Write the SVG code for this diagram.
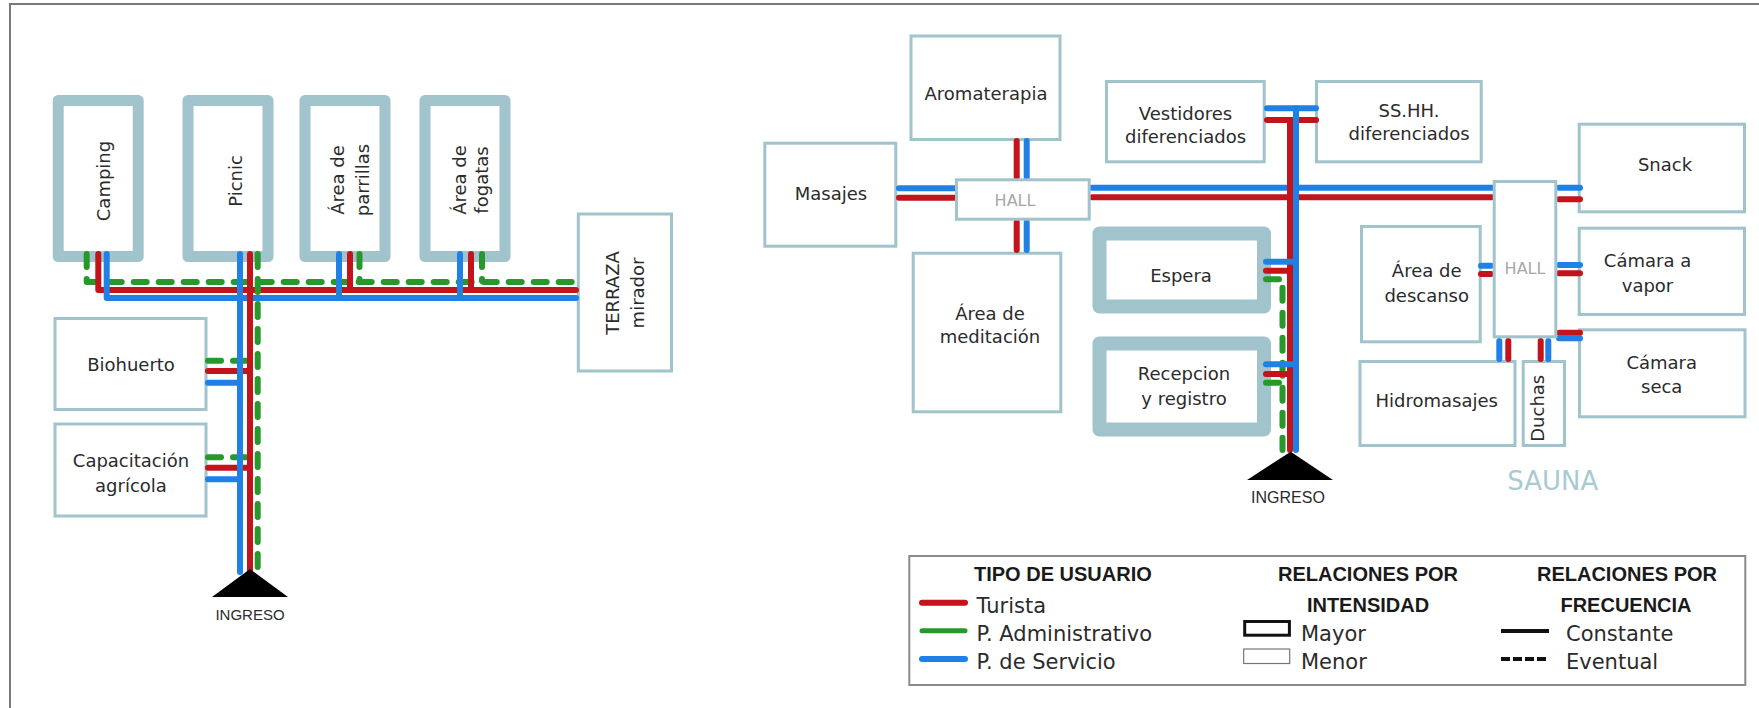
<svg xmlns="http://www.w3.org/2000/svg" width="1759" height="708" viewBox="0 0 1759 708">
<style>
.thick{fill:#fff;stroke:#a1c3cb;stroke-width:11;stroke-linejoin:round}
.thickr{fill:#fff;stroke:#a1c3cb;stroke-width:14;stroke-linejoin:round}
.thin{fill:#fff;stroke:#a1c3cb;stroke-width:3}
.lbl{font-family:"DejaVu Sans",sans-serif;font-size:18px;fill:#2b2b2b;text-anchor:middle}
.hall{font-family:"DejaVu Sans",sans-serif;font-size:16px;fill:#a6a6a6;text-anchor:middle}
.ing{font-family:"Liberation Sans",Arial,sans-serif;font-size:16px;fill:#2b2b2b;text-anchor:middle}
.sauna{font-family:"DejaVu Sans",sans-serif;font-size:26px;fill:#a9cad2;text-anchor:middle}
.hd{font-family:"Liberation Sans",Arial,sans-serif;font-size:20px;font-weight:bold;fill:#1a1a1a}
.lt{font-family:"DejaVu Sans",sans-serif;font-size:21px;fill:#2b2b2b}
.r{stroke:#c3131b;stroke-width:6;fill:none;stroke-linecap:round;stroke-linejoin:round}
.b{stroke:#1f80e6;stroke-width:6;fill:none;stroke-linecap:round;stroke-linejoin:round}
.g{stroke:#27992b;stroke-width:6;fill:none;stroke-linecap:round;stroke-linejoin:round;stroke-dasharray:13 12}
</style>

<path d="M10,708 V4 H1759" fill="none" stroke="#7a7a7a" stroke-width="2"/>

<!-- LEFT DIAGRAM NODES -->
<g id="camping"><rect class="thick" x="58.2" y="100.5" width="80" height="156"/>
<text class="lbl" transform="translate(110,181) rotate(-90)">Camping</text></g>
<g id="picnic"><rect class="thick" x="188" y="100.5" width="80" height="156"/>
<text class="lbl" transform="translate(242,181) rotate(-90)">Picnic</text></g>
<g id="parrillas"><rect class="thick" x="305" y="100.5" width="80" height="156"/>
<text class="lbl" transform="translate(352,180) rotate(-90)"><tspan x="0" y="-8">Área de</tspan><tspan x="0" y="17">parrillas</tspan></text></g>
<g id="fogatas"><rect class="thick" x="425" y="100.5" width="80" height="156"/>
<text class="lbl" transform="translate(476,180) rotate(-90)"><tspan x="0" y="-10">Área de</tspan><tspan x="0" y="12">fogatas</tspan></text></g>
<g id="terraza"><rect class="thin" x="578.3" y="214" width="93.2" height="157"/>
<text class="lbl" transform="translate(627,293) rotate(-90)"><tspan x="0" y="-8">TERRAZA</tspan><tspan x="0" y="16.5">mirador</tspan></text></g>
<g id="biohuerto"><rect class="thin" x="55" y="318.5" width="151" height="91"/>
<text class="lbl" x="131" y="370.5">Biohuerto</text></g>
<g id="capacitacion"><rect class="thin" x="55" y="424" width="151" height="92"/>
<text class="lbl" x="131" y="467.2">Capacitación</text><text class="lbl" x="131" y="491.5">agrícola</text></g>

<!-- RIGHT DIAGRAM NODES -->
<g id="aromaterapia"><rect class="thin" x="911" y="36" width="149" height="103.5"/>
<text class="lbl" x="986" y="99.5">Aromaterapia</text></g>
<g id="masajes"><rect class="thin" x="764.8" y="143.2" width="131" height="103"/>
<text class="lbl" x="831" y="199.5">Masajes</text></g>
<g id="meditacion"><rect class="thin" x="913.2" y="253.2" width="147.6" height="158.6"/>
<text class="lbl" x="990" y="319.8">Área de</text><text class="lbl" x="990" y="343.2">meditación</text></g>
<g id="vestidores"><rect class="thin" x="1106.5" y="81.5" width="157.7" height="80.3"/>
<text class="lbl" x="1185.5" y="119.8">Vestidores</text><text class="lbl" x="1185.5" y="142.5">diferenciados</text></g>
<g id="sshh"><rect class="thin" x="1316.5" y="81.5" width="164.7" height="80.3"/>
<text class="lbl" x="1409" y="116.5">SS.HH.</text><text class="lbl" x="1409" y="140">diferenciados</text></g>
<g id="espera"><rect class="thickr" x="1099.5" y="233.5" width="164.5" height="73"/>
<text class="lbl" x="1181" y="281.5">Espera</text></g>
<g id="recepcion"><rect class="thickr" x="1099.5" y="343.5" width="164.5" height="86"/>
<text class="lbl" x="1184" y="379.8">Recepcion</text><text class="lbl" x="1184" y="404.8">y registro</text></g>
<g id="snack"><rect class="thin" x="1579.2" y="124.2" width="165.3" height="87.6"/>
<text class="lbl" x="1665" y="170.8">Snack</text></g>
<g id="descanso"><rect class="thin" x="1361.5" y="226.5" width="118.7" height="115.3"/>
<text class="lbl" x="1426.7" y="277.2">Área de</text><text class="lbl" x="1426.7" y="301.5">descanso</text></g>
<g id="vapor"><rect class="thin" x="1579.2" y="228.2" width="165.3" height="86.3"/>
<text class="lbl" x="1647.5" y="266.5">Cámara a</text><text class="lbl" x="1647.5" y="291.5">vapor</text></g>
<g id="seca"><rect class="thin" x="1579.5" y="329.8" width="165.5" height="87"/>
<text class="lbl" x="1661.7" y="369.2">Cámara</text><text class="lbl" x="1661.7" y="393.2">seca</text></g>
<g id="hidromasajes"><rect class="thin" x="1360" y="361.5" width="155" height="84"/>
<text class="lbl" x="1436.7" y="406.5">Hidromasajes</text></g>
<g id="duchas"><rect class="thin" x="1523.2" y="361.5" width="41.3" height="84"/>
<text class="lbl" transform="translate(1537,408.3) rotate(-90)" y="6.5">Duchas</text></g>

<!-- CONNECTORS -->
<g id="connectors">
<!-- left -->
<path class="g" d="M86.7,254 V282 H576"/>
<path class="r" d="M98.3,254 V290 H576"/>
<path class="b" d="M106.7,254 V298 H576"/>
<path class="b" d="M339,254 V297"/>
<path class="r" d="M350,254 V289"/>
<path class="g" d="M359.5,254 V281"/>
<path class="b" d="M460,254 V297"/>
<path class="r" d="M471,254 V289"/>
<path class="g" d="M482,254 V281"/>
<path class="b" d="M208,382.7 H240"/>
<path class="r" d="M208,371 H250"/>
<path class="g" d="M208,360.7 H257.7"/>
<path class="b" d="M208,479.3 H240"/>
<path class="r" d="M208,467.7 H250"/>
<path class="g" d="M208,457.3 H257.7"/>
<path class="b" d="M240,254 V572"/>
<path class="r" d="M250,254 V572"/>
<path class="g" d="M257.7,254 V572"/>
<!-- right -->
<path class="b" d="M899,188.3 H955"/>
<path class="r" d="M899,197.7 H955"/>
<path class="r" d="M1016.7,141 V177"/>
<path class="b" d="M1026.7,141 V177"/>
<path class="r" d="M1016.7,222 V250"/>
<path class="b" d="M1026.7,222 V250"/>
<path class="b" d="M1092,187.7 H1492"/>
<path class="r" d="M1092,197.3 H1492"/>
<path class="b" d="M1267,108.3 H1316"/>
<path class="r" d="M1267,120 H1316"/>
<path class="r" d="M1290,120 V450"/>
<path class="b" d="M1296,108.3 V450"/>
<path class="b" d="M1266,261.7 H1296"/>
<path class="r" d="M1266,270.7 H1290"/>
<path class="g" d="M1266,279.3 H1282.5 V450"/>
<path class="b" d="M1266,364.3 H1296"/>
<path class="r" d="M1266,374 H1290"/>
<path class="g" d="M1266,382.7 H1282.5"/>
<path class="b" d="M1559,187.7 H1580"/>
<path class="r" d="M1559,199.3 H1580"/>
<path class="b" d="M1481,265.7 H1491"/>
<path class="r" d="M1481,274 H1491"/>
<path class="b" d="M1559,265 H1580"/>
<path class="r" d="M1559,273.3 H1580"/>
<path class="r" d="M1559,332.7 H1580"/>
<path class="b" d="M1559,338.3 H1580"/>
<path class="b" d="M1499.3,341 V359"/>
<path class="r" d="M1508.3,341 V359"/>
<path class="r" d="M1540.7,341 V359"/>
<path class="b" d="M1548.3,341 V359"/>
</g>

<g id="hall1"><rect class="thin" x="956.5" y="179.8" width="132.7" height="39.4"/>
<text class="hall" x="1015" y="205.8">HALL</text></g>
<g id="hall2"><rect class="thin" x="1494.2" y="181.5" width="61.6" height="155.3"/>
<text class="hall" x="1525" y="274">HALL</text></g>

<g id="ingreso1"><polygon points="250,569 212,597 288,597" fill="#000"/>
<text class="ing" x="250" y="620" style="font-size:15px">INGRESO</text></g>
<g id="ingreso2"><polygon points="1290.7,451.7 1247,480 1333,480" fill="#000"/>
<text class="ing" x="1288" y="503">INGRESO</text></g>
<g id="sauna-label"><text class="sauna" x="1552.7" y="489.5">SAUNA</text></g>

<!-- LEGEND -->
<g id="legend">
<rect x="909.3" y="556" width="836" height="129" fill="none" stroke="#8a8a8a" stroke-width="2"/>
<text class="hd" x="974" y="580.5">TIPO DE USUARIO</text>
<line x1="922" y1="602.7" x2="965" y2="602.7" class="r" stroke-width="5"/>
<line x1="922" y1="630.7" x2="965" y2="630.7" stroke="#27992b" stroke-width="5" stroke-linecap="round"/>
<line x1="922" y1="659" x2="965" y2="659" class="b" stroke-width="5"/>
<text class="lt" x="976.6" y="612.5">Turista</text>
<text class="lt" x="976.6" y="640.8">P. Administrativo</text>
<text class="lt" x="976.6" y="669.2">P. de Servicio</text>
<text class="hd" x="1368" y="580.5" text-anchor="middle">RELACIONES POR</text>
<text class="hd" x="1368" y="612" text-anchor="middle">INTENSIDAD</text>
<rect x="1244.7" y="621.5" width="44.7" height="13.7" fill="#fff" stroke="#111" stroke-width="3"/>
<rect x="1243.7" y="649" width="46" height="14.5" fill="#fff" stroke="#777" stroke-width="1.2"/>
<text class="lt" x="1301" y="641">Mayor</text>
<text class="lt" x="1301" y="669.2">Menor</text>
<text class="hd" x="1627" y="580.5" text-anchor="middle">RELACIONES POR</text>
<text class="hd" x="1626" y="612" text-anchor="middle">FRECUENCIA</text>
<line x1="1501" y1="631" x2="1549" y2="631" stroke="#111" stroke-width="4"/>
<line x1="1501" y1="659" x2="1549" y2="659" stroke="#111" stroke-width="4" stroke-dasharray="9 3"/>
<text class="lt" x="1566" y="641">Constante</text>
<text class="lt" x="1566" y="669.2">Eventual</text>
</g>
</svg>
